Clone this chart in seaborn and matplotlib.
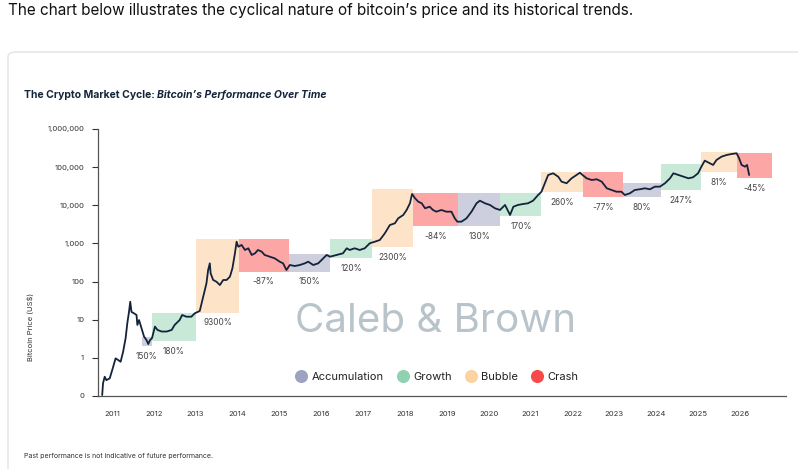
import numpy as np
import pandas as pd
import seaborn as sns
import matplotlib.pyplot as plt
from matplotlib.lines import Line2D
from matplotlib.patches import FancyBboxPatch

# Preço do bitcoin (ano decimal, US$)
anos = [2010.77, 2010.79, 2010.83, 2010.87, 2010.95, 2011.01, 2011.09, 2011.15, 2011.21, 2011.27,
        2011.33, 2011.37, 2011.41, 2011.44, 2011.47, 2011.53, 2011.59, 2011.61, 2011.65, 2011.71,
        2011.77, 2011.83, 2011.87, 2011.91, 2011.96, 2012.03, 2012.09, 2012.19, 2012.31, 2012.43,
        2012.50, 2012.62, 2012.68, 2012.78, 2012.90, 2012.98, 2013.10, 2013.18, 2013.26, 2013.30,
        2013.34, 2013.36, 2013.42, 2013.50, 2013.58, 2013.66, 2013.74, 2013.82, 2013.88, 2013.94,
        2013.98, 2014.02, 2014.10, 2014.18, 2014.26, 2014.34, 2014.42, 2014.49, 2014.58, 2014.65,
        2014.77, 2014.89, 2015.01, 2015.09, 2015.17, 2015.25, 2015.37, 2015.49, 2015.61, 2015.69,
        2015.81, 2015.93, 2016.05, 2016.13, 2016.21, 2016.37, 2016.52, 2016.61, 2016.68, 2016.80,
        2016.92, 2017.04, 2017.16, 2017.28, 2017.40, 2017.52, 2017.64, 2017.76, 2017.84, 2017.96,
        2018.04, 2018.12, 2018.17, 2018.24, 2018.32, 2018.40, 2018.48, 2018.59, 2018.67, 2018.75,
        2018.87, 2018.99, 2019.11, 2019.19, 2019.25, 2019.35, 2019.47, 2019.59, 2019.71, 2019.79,
        2019.91, 2020.03, 2020.15, 2020.27, 2020.39, 2020.47, 2020.51, 2020.59, 2020.70, 2020.82,
        2020.94, 2021.06, 2021.18, 2021.26, 2021.34, 2021.42, 2021.54, 2021.66, 2021.74, 2021.86,
        2021.98, 2022.10, 2022.18, 2022.24, 2022.34, 2022.46, 2022.58, 2022.70, 2022.82, 2022.93,
        2023.05, 2023.17, 2023.25, 2023.37, 2023.49, 2023.61, 2023.73, 2023.85, 2023.97, 2024.09,
        2024.21, 2024.33, 2024.41, 2024.53, 2024.65, 2024.77, 2024.88, 2025.00, 2025.08, 2025.16,
        2025.28, 2025.36, 2025.44, 2025.56, 2025.68, 2025.80, 2025.92, 2025.98, 2026.04, 2026.12,
        2026.17, 2026.22]
precos = [0.106, 0.215, 0.32, 0.26, 0.29, 0.48, 0.97, 0.88, 0.79, 1.45,
          3.3, 8.1, 16, 29.6, 16, 14.7, 13.3, 7.3, 9.8, 6.0,
          3.6, 2.9, 2.3, 2.9, 3.3, 6.6, 5.4, 4.9, 4.9, 5.4,
          7.3, 9.8, 13.3, 12, 12, 14.7, 17, 39, 90, 201,
          301, 165, 110, 99, 81, 110, 110, 134, 223, 551,
          1110, 821, 910, 673, 746, 498, 551, 673, 607, 498,
          449, 407, 332, 301, 201, 272, 256, 272, 301, 332,
          272, 301, 407, 498, 449, 498, 551, 746, 673, 746,
          673, 746, 1010, 1110, 1230, 1840, 3040, 3370, 4560, 5570,
          7530, 11300, 19800, 15300, 12400, 11300, 8340, 9190, 7530, 6800,
          7530, 6800, 6800, 4560, 3720, 3720, 4560, 6800, 11300, 13200,
          11300, 10200, 8340, 7530, 10200, 6800, 5570, 9190, 10200, 10800,
          11300, 13200, 18600, 22700, 37800, 62300, 69000, 56200, 41600, 37800,
          51000, 62300, 71600, 62300, 51000, 46000, 48100, 41600, 27900, 25200,
          22700, 22700, 18600, 20600, 25200, 26300, 27900, 26300, 30800, 30800,
          37800, 51000, 69000, 62300, 56200, 51000, 54200, 69000, 103000, 148000,
          126000, 114000, 154000, 188000, 208000, 221000, 231000, 171000, 114000, 103000,
          114000, 62300]

# Fases do ciclo
fases = ['Accumulation', 'Growth', 'Bubble', 'Crash',
         'Accumulation', 'Growth', 'Bubble', 'Crash',
         'Accumulation', 'Growth', 'Bubble', 'Crash',
         'Accumulation', 'Growth', 'Bubble', 'Crash']
fase_inicio = [2011.71, 2011.95, 2013.02, 2014.03, 2015.23, 2016.21, 2017.22, 2018.20,
               2019.27, 2020.28, 2021.26, 2022.26, 2023.21, 2024.11, 2025.08, 2025.93]
fase_fim = [2011.95, 2013.02, 2014.03, 2015.23, 2016.21, 2017.22, 2018.20, 2019.27,
            2020.28, 2021.26, 2022.26, 2023.21, 2024.11, 2025.08, 2025.93, 2026.77]
fase_min = [2.0, 2.7, 15.3, 182, 182, 408, 793, 2860,
            2860, 5250, 21900, 16200, 16200, 25200, 73300, 51000]
fase_max = [3.6, 15.3, 1290, 1290, 528, 1290, 26700, 21400,
            21400, 20600, 73300, 76000, 37800, 121000, 254000, 239000]
fase_retorno = ['150%', '180%', '9300%', '-87%', '150%', '120%', '2300%', '-84%',
                '130%', '170%', '260%', '-77%', '80%', '247%', '81%', '-45%']

anos_ticks = list(range(2011, 2027))
y_ticks = [0.1, 1, 10, 100, 1000, 10000, 100000, 1000000]
y_labels = ['0', '1', '10', '100', '1,000', '10,000', '100,000', '1,000,000']

cores_caixa = {'Accumulation': '#cdcfdf', 'Growth': '#c9e9d8',
               'Bubble': '#fde4c9', 'Crash': '#fca6a6'}
cores_legenda = {'Accumulation': '#9da2c0', 'Growth': '#8ed2b2',
                 'Bubble': '#fdd2a2', 'Crash': '#f84848'}


def criar_grafico():
    sns.set_theme(style='white')
    plt.rcParams['font.family'] = ['Inter', 'DejaVu Sans']

    fig = plt.figure(figsize=(7.98, 4.69), dpi=100)

    # cartão
    card = FancyBboxPatch((8 / 798, -0.05), 1.0, 1 - 52 / 469 + 0.05,
                          boxstyle='round,pad=0,rounding_size=0.01',
                          transform=fig.transFigure, facecolor='white',
                          edgecolor='#e3e3e3', linewidth=1.0, zorder=-5)
    fig.patches.append(card)

    ax = fig.add_axes([98 / 798, 73 / 469, (786 - 98) / 798, 267 / 469])
    ax.set_zorder(2)
    ax.set_facecolor('none')

    for f, x0, x1, lo, hi, ret in zip(fases, fase_inicio, fase_fim, fase_min, fase_max, fase_retorno):
        ax.fill_between([x0, x1], lo, hi, color=cores_caixa[f], linewidth=0, zorder=1)
        ax.annotate(ret, ((x0 + x1) / 2, lo), xytext=(0, -4), textcoords='offset points',
                    ha='center', va='top', fontsize=6, color='#444444')

    df = pd.DataFrame({'ano': anos, 'preco': precos})
    sns.lineplot(data=df, x='ano', y='preco', ax=ax, color='#13233a', linewidth=1.3, zorder=3)

    ax.set_yscale('log')
    ax.set_ylim(0.1, 1000000)
    ax.set_xlim(2010.67, 2027.1)
    ax.set_yticks(y_ticks)
    ax.set_yticklabels(y_labels)
    ax.minorticks_off()
    ax.set_xticks(anos_ticks)
    ax.set_xticklabels([str(a) for a in anos_ticks])
    ax.tick_params(axis='y', labelsize=5.5, colors='#333333', length=4, width=0.8, pad=6,
                   direction='out', left=True)
    ax.tick_params(axis='x', labelsize=5.5, colors='#333333', length=0, pad=11)
    ax.set_xlabel('')
    ax.set_ylabel('')
    sns.despine(ax=ax)
    for s in ['left', 'bottom']:
        ax.spines[s].set_color('#555555')
        ax.spines[s].set_linewidth(0.9)

    ax.text(0.49, 0.278, 'Caleb & Brown', transform=ax.transAxes, ha='center', va='center',
            fontsize=29, color='#b9c3ca', zorder=2)

    handles = [Line2D([], [], marker='o', linestyle='', markersize=9.4,
                      markerfacecolor=cores_legenda[n], markeredgecolor='none', label=n)
               for n in ['Accumulation', 'Growth', 'Bubble', 'Crash']]
    ax.legend(handles=handles, loc='center', bbox_to_anchor=(0.493, 0.071), ncol=4,
              frameon=False, fontsize=8, handletextpad=0.4, columnspacing=1.25,
              handlelength=1.0, labelcolor='#222222')

    fig.text(30 / 798, 1 - 327 / 469, 'Bitcoin Price (US$)', rotation=90, ha='center',
             va='center', fontsize=5.5, color='#333333')

    fig.text(8 / 798, 1 - 11 / 469, 'The chart below illustrates the cyclical nature of '
             'bitcoin\u2019s price and its historical trends.', ha='left', va='center',
             fontsize=11, color='#111111')

    t1 = fig.text(24 / 798, 1 - 95 / 469, 'The Crypto Market Cycle: ', ha='left', va='center',
                  fontsize=7.5, fontweight='bold', color='#14243a')
    fig.canvas.draw()
    bb = t1.get_window_extent()
    fig.text(bb.x1 / 798, 1 - 95 / 469, 'Bitcoin\u2019s Performance Over Time', ha='left',
             va='center', fontsize=7.5, fontweight='bold', fontstyle='italic', color='#14243a')

    fig.text(24 / 798, 1 - 456 / 469, 'Past performance is not indicative of future performance.',
             ha='left', va='center', fontsize=5, color='#333333')

    fig.savefig('out.png', dpi=100)


def main():
    criar_grafico()


if __name__ == "__main__":
    main()
